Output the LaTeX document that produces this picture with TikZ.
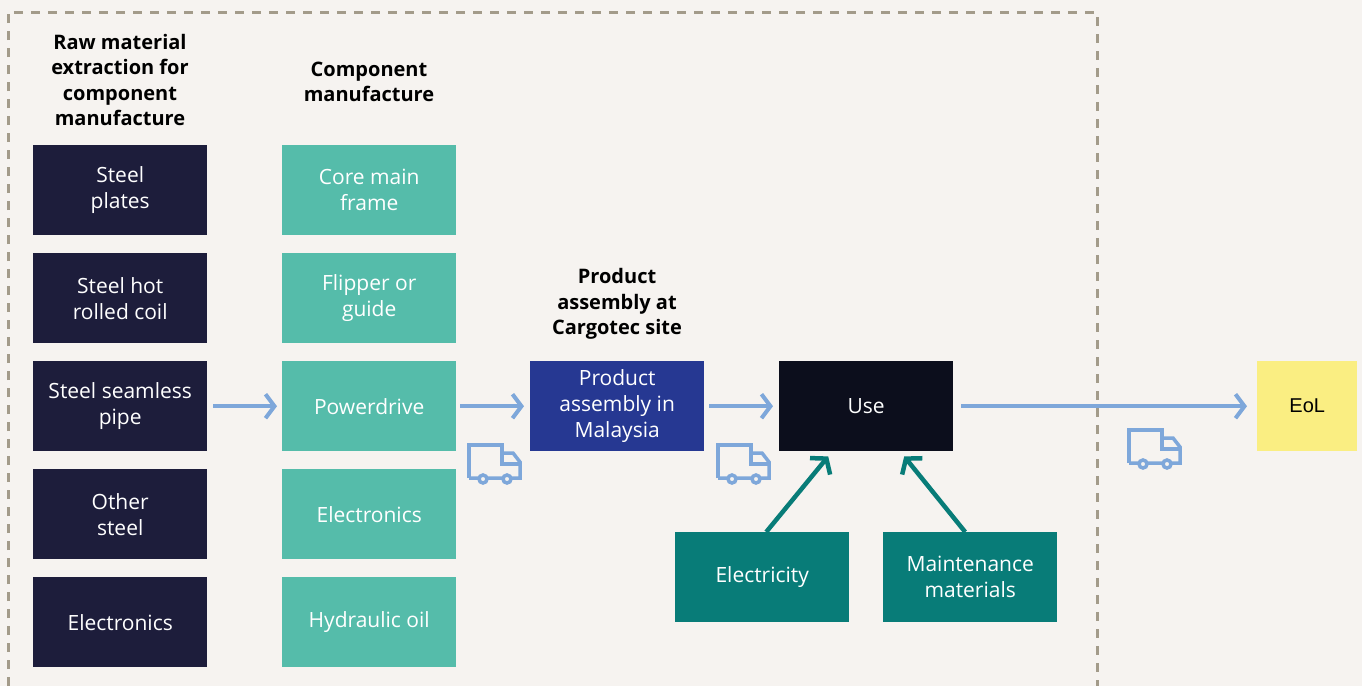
\documentclass[tikz,border=0pt]{standalone}
\usepackage{fontspec}
\setmainfont{Open Sans}
\newfontfamily\eolfont{Liberation Sans}
\usetikzlibrary{arrows.meta}
\definecolor{bgc}{HTML}{F6F3F0}
\definecolor{navy}{HTML}{1D1D3B}
\definecolor{lteal}{HTML}{55BCAA}
\definecolor{pblue}{HTML}{263892}
\definecolor{usec}{HTML}{0C0E1C}
\definecolor{eolc}{HTML}{FAEE82}
\definecolor{dteal}{HTML}{087C78}
\definecolor{arrblue}{HTML}{7EA7DA}
\definecolor{dashc}{HTML}{A39B8A}
\tikzset{
  box/.style={minimum width=174pt, minimum height=90pt, inner sep=0pt, align=center,
    text=white, font=\fontsize{21}{26}\selectfont, anchor=north west},
  rawbox/.style={box, fill=navy},
  compbox/.style={box, fill=lteal},
  hdr/.style={align=center, font=\fontsize{20}{25.5}\selectfont\bfseries, text=black, inner sep=0pt},
  flow/.style={draw=arrblue, line width=4pt, -{Straight Barb[length=9pt,width=24pt,line width=4pt]}},
  feed/.style={draw=dteal, line width=4.5pt, -{Straight Barb[length=10pt,width=26pt,line width=4.5pt]}},
  truck/.pic={
    \draw[arrblue, line width=3.5pt, line join=miter] (0,33) -- (0,0) -- (33,0) -- (33,19) -- (51,19);
    \draw[arrblue, line width=3.5pt, line join=miter] (33,8) -- (44,8) -- (51,17) -- (51,33) -- (0,33);
    \draw[arrblue, line width=3.5pt, fill=bgc] (14,34) circle (4pt);
    \draw[arrblue, line width=3.5pt, fill=bgc] (38,34) circle (4pt);
  }
}
\begin{document}
\begin{tikzpicture}[x=1pt,y=-1pt]
\useasboundingbox (0,0) rectangle (1362,686);
\fill[bgc] (0,0) rectangle (1362,686);
\draw[dashc, line width=3pt, dash pattern=on 9pt off 8pt] (8,686) -- (8,12) -- (1097,12) -- (1097,686);

\node[hdr] (h1) at (120,80) {Raw material\\extraction for\\component\\manufacture};
\node[hdr] (h2) at (369,82) {Component\\manufacture};
\node[hdr] (h3) at (617,304) {Product\\assembly at\\Cargotec site};

\node[rawbox] (r1) at (33,145) {Steel\\plates};
\node[rawbox] (r2) at (33,253) {Steel hot\\rolled coil};
\node[rawbox] (r3) at (33,361) {Steel seamless\\pipe};
\node[rawbox] (r4) at (33,469) {Other\\steel};
\node[rawbox] (r5) at (33,577) {Electronics};

\node[compbox] (c1) at (282,145) {Core main\\frame};
\node[compbox] (c2) at (282,253) {Flipper or\\guide};
\node[compbox] (c3) at (282,361) {Powerdrive};
\node[compbox] (c4) at (282,469) {Electronics};
\node[compbox] (c5) at (282,577) {Hydraulic oil};

\node[box, fill=pblue] (pa) at (530,361) {Product\\assembly in\\Malaysia};
\node[box, fill=usec] (use) at (779,361) {Use};
\node[box, fill=eolc, text=black, minimum width=100pt, font=\eolfont\fontsize{20}{24}\selectfont] (eol) at (1257,361) {EoL};
\node[box, fill=dteal] (elec) at (675,532) {Electricity};
\node[box, fill=dteal] (maint) at (883,532) {Maintenance\\materials};

\draw[flow, shorten <=6pt, shorten >=5pt] (r3.east) -- (c3.west);
\draw[flow, shorten <=4pt, shorten >=6pt] (c3.east) -- (pa.west);
\draw[flow, shorten <=5pt, shorten >=6pt] (pa.east) -- (use.west);
\draw[flow, shorten <=8pt, shorten >=10pt] (use.east) -- (eol.west);

\draw[feed] ([xshift=4pt]elec.north) -- ([xshift=-38pt,yshift=-5pt]use.south);
\draw[feed] ([xshift=-5pt]maint.north) -- ([xshift=38pt,yshift=-5pt]use.south);

\pic at (469,445) {truck};
\pic at (718,445) {truck};
\pic at (1129,430) {truck};
\end{tikzpicture}
\end{document}
